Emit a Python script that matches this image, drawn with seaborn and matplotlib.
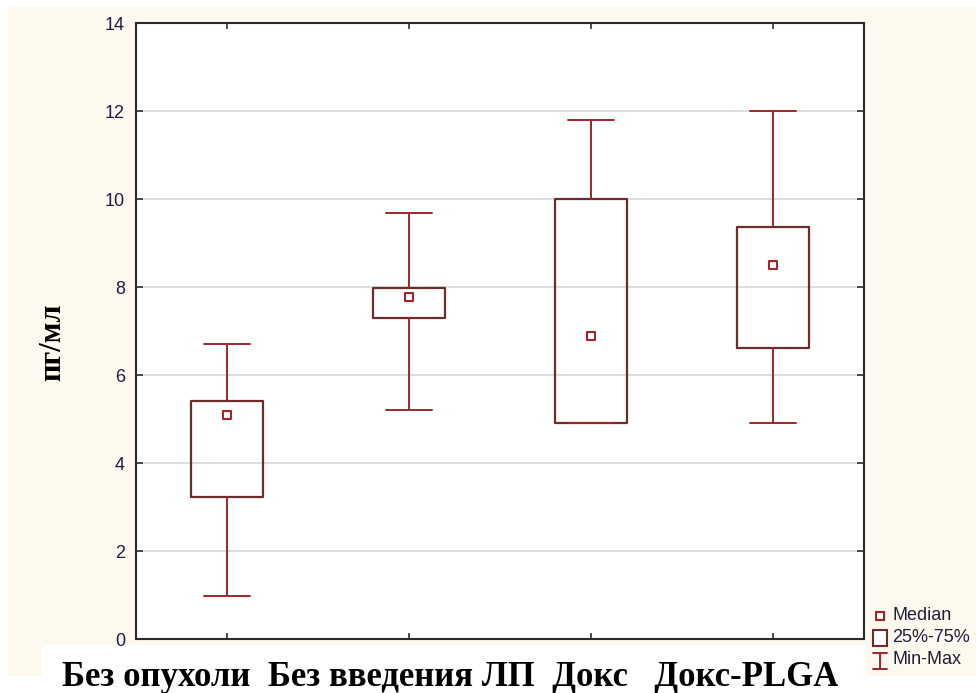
import matplotlib
matplotlib.use("Agg")
import matplotlib.pyplot as plt
from matplotlib.patches import Rectangle
from matplotlib.lines import Line2D
import seaborn as sns
import pandas as pd

# Summary statistics per group (пг/мл)
groups = ["Без опухоли", "Без введения ЛП", "Докс", "Докс-PLGA"]
minimum = [0.98, 5.20, 4.91, 4.91]
q25 = [3.22, 7.30, 4.91, 6.61]
median = [5.09, 7.77, 6.89, 8.50]
q75 = [5.40, 7.98, 10.00, 9.37]
maximum = [6.70, 9.68, 11.80, 12.00]
y_ticks = [0, 2, 4, 6, 8, 10, 12, 14]

box_edge = "#6b2c2c"
whisk_col = "#a3252a"
cream = "#fdf9ee"
tick_col = "#1e1e3c"

sns.set_style("white")
plt.rcParams["font.family"] = ["Liberation Sans", "DejaVu Sans"]

fig = plt.figure(figsize=(9.76, 6.93), dpi=100)
fig.patch.set_facecolor("white")
W, H = 976, 693

# cream panel behind the chart and a white strip for the group captions
fig.patches.append(Rectangle((8 / W, 1 - 676 / H), (W - 8) / W, (676 - 7) / H,
                             transform=fig.transFigure, facecolor=cream,
                             edgecolor="none", zorder=-2))
fig.patches.append(Rectangle((42 / W, 0), (866 - 42) / W, (H - 645) / H,
                             transform=fig.transFigure, facecolor="white",
                             edgecolor="none", zorder=-1))

ax = fig.add_axes([136 / W, 1 - 639 / H, (864 - 136) / W, (639 - 23) / H])
ax.set_facecolor("white")
ax.set_zorder(1)

stats = []
for g, lo, a, m, b, hi in zip(groups, minimum, q25, median, q75, maximum):
    stats.append(dict(label=g, whislo=lo, q1=a, med=m, q3=b, whishi=hi, fliers=[]))

ax.bxp(stats, positions=range(len(groups)), widths=0.4, capwidths=0.25,
       showfliers=False,
       boxprops=dict(color=box_edge, linewidth=1.6),
       whiskerprops=dict(color=whisk_col, linewidth=1.4),
       capprops=dict(color=whisk_col, linewidth=1.4),
       medianprops=dict(linewidth=0))

df = pd.DataFrame({"pos": range(len(groups)), "median": median})
sns.scatterplot(data=df, x="pos", y="median", marker="s", s=36,
                facecolor="white", edgecolor=whisk_col, linewidth=1.5,
                ax=ax, zorder=5, legend=False)

ax.set_xlim(-0.5, len(groups) - 0.5)
ax.set_ylim(0, 14)
ax.set_yticks(y_ticks)
ax.set_xticks(range(len(groups)))
ax.set_xticklabels([])
ax.set_xlabel("")
ax.set_ylabel("")
ax.yaxis.grid(True, color="#dadada", linewidth=1.3)
ax.set_axisbelow(True)
ax.tick_params(axis="y", direction="in", length=5, width=1.2, color="#303030",
               left=True, right=True, labelsize=13, labelcolor=tick_col, pad=8)
ax.tick_params(axis="x", direction="in", length=4, width=1.2, color="#303030",
               bottom=True, top=True)
for s in ax.spines.values():
    s.set_visible(True)
    s.set_color("#2a2a2a")
    s.set_linewidth(1.5)

# y-axis title
fig.text(53 / W, 1 - 342 / H, "пг/мл", rotation=90, ha="center", va="center",
         fontsize=22, fontweight="bold", color="black",
         family=["Liberation Serif", "DejaVu Serif"])

# group captions under the axis
fig.text(450 / W, 1 - 686 / H, "Без опухоли  Без введения ЛП  Докс   Докс-PLGA",
         ha="center", va="baseline", fontsize=25, fontweight="bold", color="black",
         family=["Liberation Serif", "DejaVu Serif"])

# legend
lx = 880 / W
fig.add_artist(Line2D([lx], [1 - 616 / H], marker="s", markersize=6,
                      markerfacecolor="white", markeredgecolor=whisk_col,
                      markeredgewidth=1.5, transform=fig.transFigure))
fig.patches.append(Rectangle((873 / W, 1 - 646 / H), 14 / W, 16 / H,
                             transform=fig.transFigure, facecolor="white",
                             edgecolor=box_edge, linewidth=1.5))
fig.add_artist(Line2D([lx, lx], [1 - 669 / H, 1 - 653 / H], color=whisk_col,
                      linewidth=1.4, transform=fig.transFigure))
for yy in (653, 669):
    fig.add_artist(Line2D([lx - 7 / W, lx + 7 / W], [1 - yy / H, 1 - yy / H],
                          color=whisk_col, linewidth=1.4, transform=fig.transFigure))
for yy, txt in ((616, "Median"), (638, "25%-75%"), (660, "Min-Max")):
    fig.text(892 / W, 1 - yy / H, txt, ha="left", va="center", fontsize=13,
             color=tick_col)

fig.savefig("out.png", dpi=100)
